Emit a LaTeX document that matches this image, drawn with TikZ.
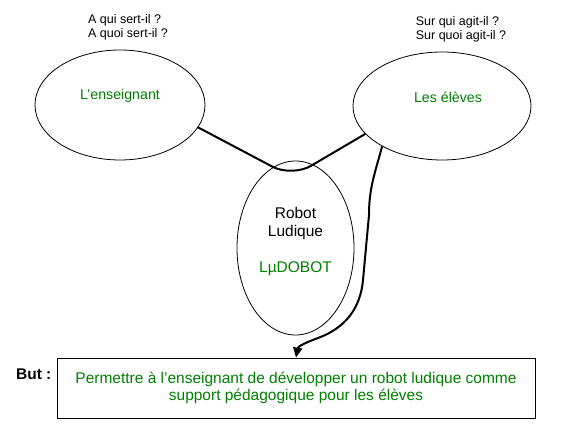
\documentclass[tikz,border=0pt]{standalone}
\usepackage{fontspec}
\setmainfont{Liberation Sans}
\usetikzlibrary{shapes.geometric,positioning,arrows.meta}
\definecolor{txtgreen}{RGB}{0,128,0}
\tikzset{
  bubble/.style={draw, ellipse, line width=0.8pt, inner sep=0pt},
  question/.style={font=\fontsize{12.5}{14.5}\selectfont, align=left, inner sep=0pt},
  partner/.style={text=txtgreen, font=\fontsize{14.2}{17}\selectfont, inner sep=0pt},
  link/.style={line width=2pt},
}
\begin{document}
\begin{tikzpicture}[x=1pt,y=1pt]
\useasboundingbox (0,0) rectangle (565,-441);

% the three partners
\node[bubble, minimum width=170pt, minimum height=110pt] (ens) at (120,-105) {};
\node[bubble, minimum width=178pt, minimum height=108pt] (eleves) at (442,-106) {};
\node[bubble, minimum width=117pt, minimum height=174pt] (robot) at (295.5,-248) {};

\node[partner] (ensname) at ([yshift=9pt]ens.center) {L'enseignant};
\node[partner] (elevesname) at ([xshift=6pt,yshift=9pt]eleves.center) {Les élèves};
\node[align=center, inner sep=0pt, font=\fontsize{15.5}{18}\selectfont] (robotname) at ([yshift=7pt]robot.center)
  {Robot\\Ludique\\[18pt]\textcolor{txtgreen}{LµDOBOT}};

% questions
\node[question, above=9pt of ens, xshift=8pt] (ensq) {A qui sert-il ?\\A quoi sert-il ?};
\node[question, above=9pt of eleves, xshift=19pt] (elevesq) {Sur qui agit-il ?\\Sur quoi agit-il ?};

% goal
\node[draw, line width=0.8pt, minimum width=478pt, minimum height=60pt, align=center,
  text=txtgreen, font=\fontsize{15.5}{17.5}\selectfont] (goal) at (296,-388)
  {Permettre à l'enseignant de développer un robot ludique comme\\support pédagogique pour les élèves};
\node[font=\bfseries\fontsize{15.5}{16}\selectfont, anchor=east, inner sep=0pt] (but)
  at ([xshift=-5pt,yshift=-17pt]goal.north west) {But :};

% links
\draw[link, rounded corners=22pt] (ens.-16) -- (292,-177) -- (eleves.200);
\draw[link, -{Triangle[length=10pt,width=9pt]}] (eleves.214) to[out=-105,in=90] (369,-215)
  -- (363,-280) to[out=-95,in=20] (318,-338) to[out=200,in=80] (goal.north);
\end{tikzpicture}
\end{document}
